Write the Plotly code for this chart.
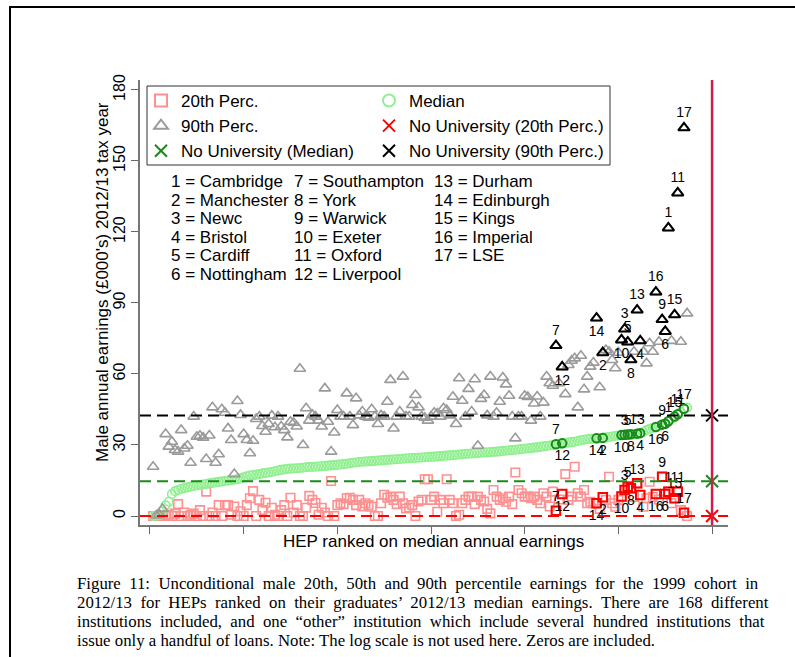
import plotly.graph_objects as go

# ---------------- data ----------------
ranks = list(range(1, 173))

p20 = [0, 0, 0, 0, 0.3, 0.5, 0, 1.0, 5.0, 0,
       1.5, 0, 0.5, 1.0, 0, 2.5, 0, 10.3, 0, 1.5,
       0, 4.6, 0, 4.6, 4.6, 0.5, 4.0, 0, 2.0, 0,
       4.6, 7.5, 10.5, 0, 6.8, 2.5, 5.6, 0, 3.5, 0.5,
       0, 2.5, 4.6, 0, 7.7, 1.5, 4.6, 0, 0, 3.5,
       8.5, 6.8, 5.5, 0.5, 3.5, 1.5, 0, 14.8, 0, 4.6,
       5.4, 5.0, 7.5, 7.7, 6.8, 4.6, 6.8, 4.0, 5.4, 4.6,
       3.9, 0, 0, 5.4, 9.0, 7.7, 8.2, 6.8, 5.0, 8.2,
       5.4, 3.2, 3.6, 4.6, 0, 6.1, 6.8, 15.5, 15.5, 6.8,
       8.2, 1.8, 6.8, 5.4, 15.5, 6.8, 5.4, 0, 0.5, 5.4,
       6.8, 8.2, 8.2, 5.0, 8.2, 6.8, 6.1, 3.0, 1.1, 11.0,
       8.2, 6.8, 7.5, 6.0, 8.2, 5.0, 18.4, 11.0, 9.6, 8.2,
       8.2, 7.5, 8.2, 6.8, 5.4, 9.6, 8.2, 4.0, 10.3, 2.2,
       7.0, 9.3, 17.7, 6.8, 8.2, 20.8, 9.6, 8.2, 11.0, 5.4,
       6.0, 5.4, 5.4, 3.0, 7.9, 6.8, 16.6, 5.4, 3.9, 6.8,
       8.2, 11.0, 12.4, 11.7, 8.0, 13.8, 8.9, 3.9, 7.5, 14.5,
       8.0, 9.3, 7.0, 16.6, 9.3, 10.3, 5.4, 7.5, 10.3, 2.5,
       1.4, 0]

p50 = [0.0, 0.1, 0.4, 2.0, 4.5, 6.0, 9.3, 10.5, 11.0, 11.4,
       11.8, 12.1, 12.4, 12.7, 12.9, 13.1, 13.3, 13.5, 13.8, 14.0,
       14.2, 14.4, 14.6, 14.8, 15.0, 15.1, 15.3, 15.6, 15.9, 16.3,
       16.8, 17.1, 17.3, 17.5, 17.7, 18.0, 18.2, 18.4, 18.6, 18.9,
       19.2, 19.5, 19.7, 19.9, 20.0, 20.1, 20.2, 20.3, 20.4, 20.6,
       20.7, 20.7, 20.8, 20.9, 21.0, 21.1, 21.3, 21.4, 21.5, 21.6,
       21.8, 21.9, 22.1, 22.3, 22.5, 22.6, 22.8, 22.9, 23.0, 23.1,
       23.2, 23.3, 23.4, 23.5, 23.6, 23.7, 23.8, 23.9, 24.0, 24.1,
       24.2, 24.3, 24.4, 24.5, 24.5, 24.6, 24.7, 24.8, 24.9, 25.0,
       25.1, 25.2, 25.3, 25.4, 25.5, 25.6, 25.7, 25.8, 26.0, 26.1,
       26.2, 26.3, 26.4, 26.5, 26.6, 26.7, 26.8, 26.9, 27.0, 27.1,
       27.2, 27.3, 27.5, 27.6, 27.8, 27.9, 28.0, 28.1, 28.3, 28.4,
       28.6, 28.7, 28.9, 29.0, 29.2, 29.4, 29.6, 29.8, 30.0, 30.3,
       30.5, 30.7, 30.9, 31.0, 31.2, 31.4, 31.7, 32.0, 32.2, 32.4,
       32.6, 32.7, 32.8, 32.9, 33.0, 33.2, 33.4, 33.6, 33.8, 34.0,
       34.2, 34.3, 34.4, 34.5, 34.6, 34.8, 35.0, 35.5, 36.3, 36.8,
       37.2, 37.6, 38.0, 38.6, 39.0, 40.0, 41.0, 42.0, 43.0, 44.0,
       45.3, 45.8]

p90 = [20.8, 0.2, 0.6, 3.0, 34.6, 29.3, 31.4, 27.9, 27.2, 36.3,
       28.5, 29.7, 22.5, 42.0, 33.5, 33.9, 33.1, 24.1, 34.0, 45.9,
       22.5, 26.1, 45.1, 43.6, 37.0, 32.1, 17.7, 48.6, 42.7, 34.6,
       32.1, 26.5, 31.8, 41.0, 42.0, 38.0, 35.6, 38.9, 42.4, 37.5,
       42.0, 37.8, 36.3, 33.2, 39.8, 39.4, 37.8, 62.2, 30.0, 45.5,
       40.3, 42.7, 42.0, 40.3, 37.8, 53.9, 39.8, 27.2, 35.3, 44.8,
       42.0, 42.0, 51.8, 42.0, 38.4, 49.7, 42.5, 44.1, 42.0, 41.5,
       45.1, 42.0, 38.9, 42.5, 42.0, 48.3, 57.5, 37.0, 42.0, 44.1,
       58.9, 42.0, 42.0, 46.9, 51.1, 45.9, 42.0, 41.5, 40.3, 42.0,
       43.6, 43.3, 42.0, 45.5, 44.8, 42.5, 50.4, 38.9, 58.2, 48.7,
       42.0, 53.7, 44.1, 57.8, 29.7, 49.5, 51.1, 42.5, 58.9, 42.0,
       43.6, 48.3, 58.5, 55.6, 50.8, 42.0, 32.8, 42.0, 42.0, 50.8,
       50.3, 40.3, 47.5, 50.5, 42.0, 47.9, 58.9, 56.1, 55.0, 72.0,
       56.1, 63.0, 51.5, 63.8, 65.6, 66.6, 45.9, 67.7, 53.5, 58.9,
       63.1, 64.8, 83.6, 54.4, 69.0, 70.1, 69.4, 65.9, 62.4, 69.0,
       74.4, 79.0, 73.5, 66.0, 69.4, 87.0, 74.0, 69.4, 64.5, 73.0,
       69.4, 94.6, 73.6, 83.0, 78.0, 121.7, 74.0, 85.0, 136.5, 73.6,
       164.0, 85.6]

hl_ids = list(range(1, 18))
hl_names = ["Cambridge", "Manchester", "Newc", "Bristol", "Cardiff", "Nottingham",
            "Southampton", "York", "Warwick", "Exeter", "Oxford", "Liverpool",
            "Durham", "Edinburgh", "Kings", "Imperial", "LSE"]
hl_ranks = [166, 145, 152, 157, 153, 165, 130, 154, 164, 151, 169, 132, 156, 143, 168, 162, 171]

nouni_x = 180
nouni_p20 = 0.0
nouni_p50 = 14.7
nouni_p90 = 42.5

x_ticks = [0, 30, 60, 90, 120, 150, 180]
y_ticks = [0, 30, 60, 90, 120, 150, 180]

caption_lines = [
    "Figure 11: Unconditional male 20th, 50th and 90th percentile earnings for the 1999 cohort in",
    "2012/13 for HEPs ranked on their graduates\u2019 2012/13 median earnings. There are 168 different",
    "institutions included, and one \u201cother\u201d institution which include several hundred institutions that",
    "issue only a handful of loans. Note: The log scale is not used here. Zeros are included.",
]
caption_justified = [True, True, True, False]

# ---------------- layout helpers ----------------
W, H = 795, 657
L, R, T, B = 140, 67, 80, 132
PW, PH = W - L - R, H - T - B


def fx(p):
    return (p - L) / PW


def fy(p):
    return (H - B - p) / PH


SANS = "Arial, Liberation Sans, sans-serif"
SERIF = "Liberation Serif, Times New Roman, serif"

pos20 = {1: "top", 2: "bottom", 3: "top", 4: "bottom", 5: "top", 6: "bottom", 7: "top",
         8: "bottom", 9: "top", 10: "bottom", 11: "top", 12: "bottom", 13: "top",
         14: "bottom", 15: "top", 16: "bottom", 17: "top"}
pos50 = dict(pos20)
pos90 = {1: "top", 2: "bottom", 3: "top", 4: "bottom", 5: "top", 6: "bottom", 7: "top",
         8: "bottom", 9: "top", 10: "bottom", 11: "top", 12: "bottom", 13: "top",
         14: "bottom", 15: "top", 16: "top", 17: "top"}

fig = go.Figure()

light_line = 1.6
fig.add_trace(go.Scatter(x=ranks, y=p20, mode="markers", name="20th Perc.", legend="legend",
                         marker=dict(symbol="square-open", size=8.5, color="#ff9090",
                                     line=dict(width=light_line))))
fig.add_trace(go.Scatter(x=ranks, y=p50, mode="markers", name="Median", legend="legend2",
                         marker=dict(symbol="circle-open", size=8.5, color="#90f090",
                                     line=dict(width=light_line))))
fig.add_trace(go.Scatter(x=ranks, y=p90, mode="markers", name="90th Perc.", legend="legend",
                         marker=dict(symbol="triangle-up-open", size=10, color="#9a9a9a",
                                     line=dict(width=light_line))))
fig.add_trace(go.Scatter(x=[nouni_x], y=[nouni_p20], mode="markers", name="No University (20th Perc.)",
                         legend="legend2",
                         marker=dict(symbol="x-thin-open", size=12, color="#ff0000",
                                     line=dict(width=2, color="#ff0000"))))
fig.add_trace(go.Scatter(x=[nouni_x], y=[nouni_p50], mode="markers", name="No University (Median)",
                         legend="legend",
                         marker=dict(symbol="x-thin-open", size=12, color="#1a8a1a",
                                     line=dict(width=2, color="#1a8a1a"))))
fig.add_trace(go.Scatter(x=[nouni_x], y=[nouni_p90], mode="markers", name="No University (90th Perc.)",
                         legend="legend2",
                         marker=dict(symbol="x-thin-open", size=12, color="#000000",
                                     line=dict(width=2, color="#000000"))))


def hl_trace(vals, symbol, color, size, posmap):
    xs = list(hl_ranks)
    ys = [vals[r - 1] for r in xs]
    txt = [str(i) for i in hl_ids]
    tp = [posmap[i] + " center" for i in hl_ids]
    return go.Scatter(x=xs, y=ys, mode="markers+text", text=txt, textposition=tp,
                      textfont=dict(family=SANS, size=14, color="black"),
                      marker=dict(symbol=symbol, size=size, color=color, line=dict(width=2)),
                      showlegend=False, cliponaxis=False)


fig.add_trace(hl_trace(p20, "square-open", "#ff0000", 8.5, pos20))
fig.add_trace(hl_trace(p50, "circle-open", "#1a8a1a", 8.5, pos50))
fig.add_trace(hl_trace(p90, "triangle-up-open", "#000000", 10, pos90))

shapes = []
for val, col in [(nouni_p90, "#000000"), (nouni_p50, "#1a8a1a"), (nouni_p20, "#ff0000")]:
    shapes.append(dict(type="line", xref="paper", yref="y", x0=0, x1=1, y0=val, y1=val,
                       line=dict(color=col, width=2, dash="11px,6px"), layer="above"))
shapes.append(dict(type="line", xref="x", yref="paper", x0=nouni_x, x1=nouni_x, y0=0, y1=1,
                   line=dict(color="#cc1f4c", width=2.5), layer="above"))
# legend frame
shapes.append(dict(type="rect", xref="paper", yref="paper", x0=fx(147), x1=fx(610), y0=fy(165), y1=fy(86),
                   line=dict(color="#333333", width=1), fillcolor="white", layer="above"))
# page frame (top and left rules)
shapes.append(dict(type="line", xref="paper", yref="paper", x0=fx(9), x1=fx(800), y0=fy(7), y1=fy(7),
                   line=dict(color="black", width=2)))
shapes.append(dict(type="line", xref="paper", yref="paper", x0=fx(10), x1=fx(10), y0=fy(6), y1=fy(660),
                   line=dict(color="black", width=2)))

annotations = []
cols_x = [169, 292, 432]
rows_y = [181, 200, 218.5, 237, 256, 274.5]
for k, (i, nm) in enumerate(zip(hl_ids, hl_names)):
    c, r = divmod(k, 6)
    annotations.append(dict(xref="paper", yref="paper", x=fx(cols_x[c]), y=fy(rows_y[r]),
                            xanchor="left", yanchor="middle", showarrow=False,
                            text=f"{i} = {nm}", font=dict(family=SANS, size=17, color="black")))

annotations.append(dict(xref="paper", yref="paper", x=fx(102), y=fy(282), textangle=-90,
                        xanchor="center", yanchor="middle", showarrow=False,
                        text="Male annual earnings (\u00a3000's) 2012/13 tax year",
                        font=dict(family=SANS, size=17, color="black")))
annotations.append(dict(xref="paper", yref="paper", x=fx(433), y=fy(541),
                        xanchor="center", yanchor="middle", showarrow=False,
                        text="HEP ranked on median annual earnings",
                        font=dict(family=SANS, size=17, color="black")))
cap_y = [583, 602.5, 621.5, 640.5]
for line, yy, just in zip(caption_lines, cap_y, caption_justified):
    shown = line.replace(" ", " \u00a0") if just else line
    annotations.append(dict(xref="paper", yref="paper", x=fx(75), y=fy(yy),
                            xanchor="left", yanchor="middle", showarrow=False,
                            text=shown, font=dict(family=SERIF, size=16.8, color="black")))

legend_common = dict(orientation="v", yanchor="top", xanchor="left", itemwidth=30,
                     bgcolor="rgba(0,0,0,0)", borderwidth=0,
                     font=dict(family=SANS, size=17, color="black"),
                     itemsizing="constant", traceorder="normal", tracegroupgap=0)

fig.update_layout(
    width=W, height=H,
    margin=dict(l=L, r=R, t=T, b=B, pad=0),
    paper_bgcolor="white", plot_bgcolor="white",
    font=dict(family=SANS, color="black"),
    showlegend=True,
    legend=dict(x=fx(141), y=fy(83), **legend_common),
    legend2=dict(x=fx(369), y=fy(83), **legend_common),
    shapes=shapes, annotations=annotations,
)
fig.update_xaxes(range=[-3.2, 185.1], tickvals=x_ticks, showticklabels=False,
                 ticks="outside", ticklen=7, tickwidth=1.3, tickcolor="#666666",
                 showline=True, linecolor="#777777", linewidth=1.5,
                 showgrid=False, zeroline=False)
fig.update_yaxes(range=[-3.8, 184.2], tickvals=y_ticks, tickangle=-90,
                 tickfont=dict(family=SANS, size=16, color="black"),
                 ticks="outside", ticklen=7, tickwidth=1.3, tickcolor="#666666",
                 showline=True, linecolor="#777777", linewidth=1.5,
                 showgrid=False, zeroline=False)

fig.write_html("out.html", config={"displayModeBar": False},
               post_script="document.body.style.margin='0px';")
